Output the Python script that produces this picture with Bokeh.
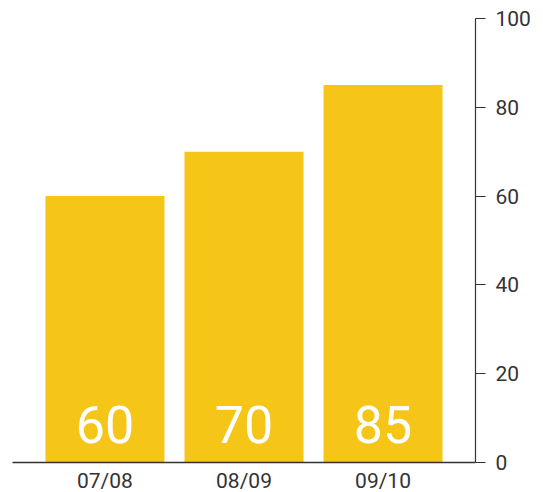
from bokeh.plotting import figure
from bokeh.models import Range1d, FixedTicker, LinearAxis, ColumnDataSource
from bokeh.core.properties import value
from bokeh.embed import file_html
from bokeh.resources import INLINE

categories = ["07/08", "08/09", "09/10"]
values = [60, 70, 85]
y_ticks = [0, 20, 40, 60, 80, 100]

FONT = "Roboto"
BAR = "#F5C518"
AX = "#333333"

xs = [i + 0.5 for i in range(len(categories))]
src = ColumnDataSource(dict(x=xs, top=values, label=[str(v) for v in values], zero=[0] * len(values)))

p = figure(output_backend="svg", toolbar_location=None,
           frame_width=463, frame_height=444,
           x_range=Range1d(-0.165, len(categories) + 0.165), y_range=Range1d(0, 100),
           min_border_left=12, min_border_top=18, min_border_right=0, min_border_bottom=0,
           x_axis_location=None, y_axis_location=None)
p.outline_line_color = None
p.xgrid.visible = False
p.ygrid.visible = False
p.background_fill_color = "white"
p.border_fill_color = "white"

p.vbar(x="x", top="top", width=0.856, bottom=0, source=src, fill_color=BAR, line_color=None)
p.text(x="x", y="zero", text="label", source=src, text_color="white",
       text_font=value(FONT), text_font_size="52px", text_align="center",
       text_baseline="alphabetic", y_offset=-38)

xa = LinearAxis(ticker=FixedTicker(ticks=xs),
                major_label_overrides={x: c for x, c in zip(xs, categories)})
xa.axis_line_color = AX
xa.axis_line_width = 1.5
xa.major_tick_line_color = None
xa.major_tick_out = 0
xa.major_tick_in = 0
xa.minor_tick_line_color = None
xa.major_label_text_font = FONT
xa.major_label_text_font_size = "21px"
xa.major_label_text_color = AX
xa.major_label_standoff = 6
p.add_layout(xa, "below")

ya = LinearAxis(ticker=FixedTicker(ticks=y_ticks))
ya.axis_line_color = AX
ya.axis_line_width = 1.2
ya.major_tick_line_color = AX
ya.major_tick_line_width = 1.2
ya.major_tick_out = 10
ya.major_tick_in = 0
ya.minor_tick_line_color = None
ya.major_label_text_font = FONT
ya.major_label_text_font_size = "21px"
ya.major_label_text_color = AX
ya.major_label_standoff = 10
p.add_layout(ya, "right")

open("out.html", "w").write(file_html(p, INLINE))
